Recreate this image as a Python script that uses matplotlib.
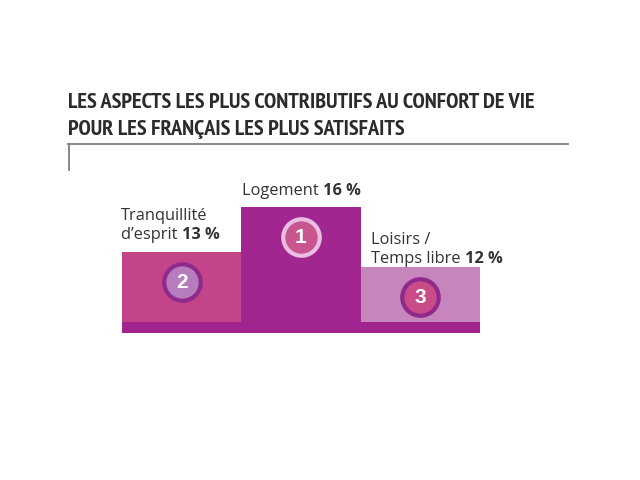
import matplotlib
matplotlib.use('Agg')
import matplotlib.pyplot as plt
from matplotlib import font_manager

# podium : gauche = 2e, centre = 1er, droite = 3e
rangs = ['2', '1', '3']
libelles = ['Tranquillité\nd’esprit', 'Logement', 'Loisirs /\nTemps libre']
valeurs = [13, 16, 12]
pourcent = ['13 %', '16 %', '12 %']

titre = ['LES ASPECTS LES PLUS CONTRIBUTIFS AU CONFORT DE VIE',
         'POUR LES FRANÇAIS LES PLUS SATISFAITS']

couleurs_barres = ['#c4448a', '#a1268f', '#c685bd']
couleurs_rond = ['#b67cbd', '#c9558f', '#c94c89']
couleurs_bord = ['#8e2a8c', '#ebbde3', '#8f2a8c']
couleur_socle = '#a0238f'

plt.rcParams['font.family'] = ['Open Sans', 'DejaVu Sans']

# police étroite et grasse pour le titre, si on en trouve une
etroites = [f for f in font_manager.fontManager.ttflist
            if ('narrow' in f.fname.lower() or 'condensed' in f.fname.lower())
            and 'bold' in f.fname.lower() and 'italic' not in f.fname.lower()
            and 'oblique' not in f.fname.lower()]
etroites.sort(key=lambda f: ('narrow' not in f.fname.lower(), f.fname))
if etroites:
    fp_titre = font_manager.FontProperties(fname=etroites[0].fname)
else:
    fp_titre = font_manager.FontProperties(family='DejaVu Sans', weight='bold')

fig = plt.figure(figsize=(6.4, 4.8), dpi=100)
fig.patch.set_facecolor('white')
r = fig.canvas.get_renderer()

# titre, taille ajustée pour tenir entre x=68 et x=566
textes_titre = []
for i, ligne in enumerate(titre):
    t = fig.text(68 / 640, 1 - (108 + i * 27) / 480, ligne, fontproperties=fp_titre,
                 color='#2b2b2b', ha='left', va='baseline')
    t.set_fontsize(14)
    textes_titre.append(t)
larg = textes_titre[0].get_window_extent(renderer=r).width
taille = min(14 * 498 / larg, 16)
for t in textes_titre:
    t.set_fontsize(taille)

# filet gris sous le titre
deco = fig.add_axes([0, 0, 1, 1])
deco.set_xlim(0, 640)
deco.set_ylim(480, 0)
deco.axis('off')
deco.plot([68, 568], [144, 144], color='#808080', lw=1.3)
deco.plot([68.5, 68.5], [144, 170], color='#808080', lw=1.3)

# podium
ax = fig.add_axes([122 / 640, 1 - 333 / 480, 358 / 640, 133 / 480])
x = range(len(valeurs))
ax.bar(x, valeurs, width=1.0, color=couleurs_barres, linewidth=0, zorder=1)
ax.axhspan(7.6, 8.35, color=couleur_socle, lw=0, zorder=2)
ax.set_xlim(-0.5, 2.5)
ax.set_ylim(7.6, 16.47)
ax.axis('off')

for i, v in enumerate(valeurs):
    ax.scatter(i, v - 2.0, s=690, color=couleurs_rond[i],
               edgecolors=couleurs_bord[i], linewidths=3, zorder=3)
    ax.text(i, v - 2.0, rangs[i], ha='center', va='center', color='white',
            fontsize=15, fontweight='bold', family='Liberation Sans', zorder=4)

# étiquettes
lignes = [l.split('\n') for l in libelles]
# Logement, centré au-dessus de la barre
a1 = ax.annotate(lignes[1][0] + ' ', (1, valeurs[1]), xytext=(0, 9),
                 textcoords='offset points', ha='left', va='baseline',
                 fontsize=11.8, color='#333333', annotation_clip=False)
a2 = ax.annotate(pourcent[1], (1, valeurs[1]), xytext=(0, 9),
                 textcoords='offset points', ha='left', va='baseline',
                 fontsize=11.8, fontweight='bold', color='#333333',
                 annotation_clip=False)
w1 = a1.get_window_extent(renderer=r).width * 0.72
w2 = a2.get_window_extent(renderer=r).width * 0.72
a1.set_position((-(w1 + w2) / 2, 9))
a2.set_position((-(w1 + w2) / 2 + w1, 9))

def etiquette(i, x0, y_pix):
    # deux lignes, la seconde suivie du pourcentage en gras
    fig.text(x0 / 640, 1 - y_pix / 480, lignes[i][0], fontsize=11.8,
             color='#333333', ha='left', va='baseline')
    t2 = fig.text(x0 / 640, 1 - (y_pix + 19) / 480, lignes[i][1] + ' ',
                  fontsize=11.8, color='#333333', ha='left', va='baseline')
    bb = t2.get_window_extent(renderer=r)
    fig.text(bb.x1 / 640, 1 - (y_pix + 19) / 480, pourcent[i], fontsize=11.8,
             fontweight='bold', color='#333333', ha='left', va='baseline')

etiquette(0, 121, 220)
etiquette(2, 371, 244)

plt.savefig('out.png', dpi=100, facecolor='white')
